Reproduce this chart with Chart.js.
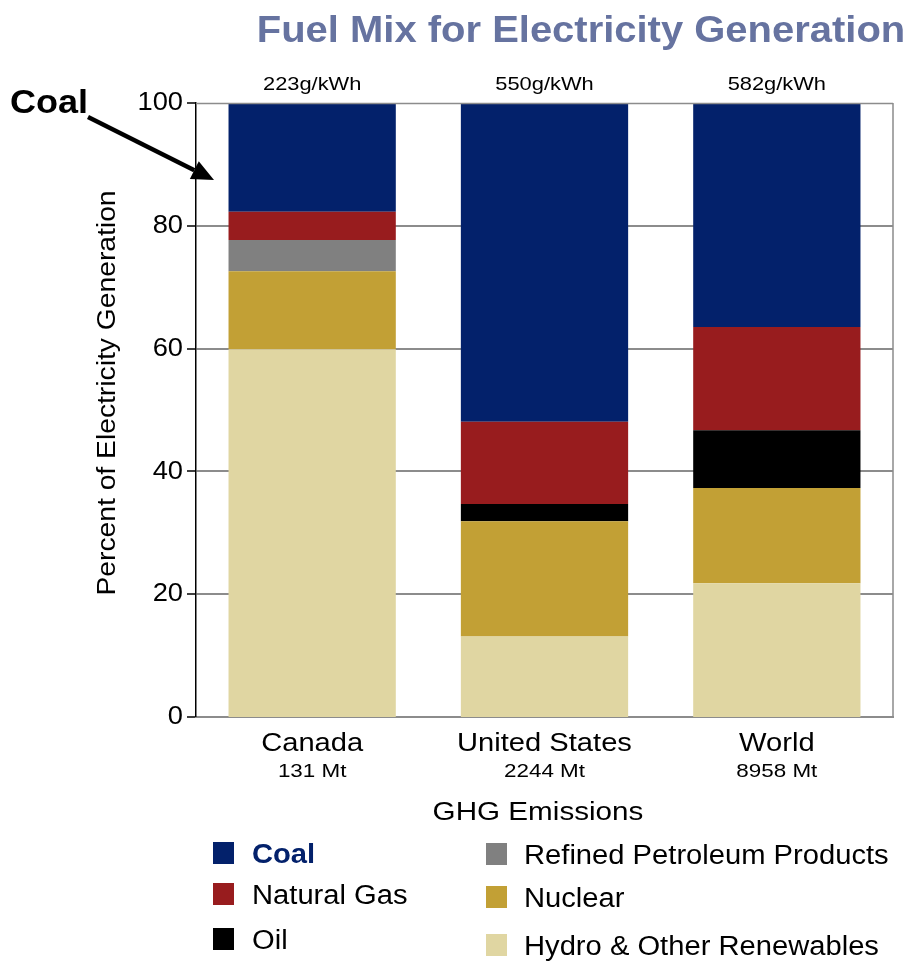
<!DOCTYPE html>
<html>
<head>
<meta charset="utf-8">
<title>Fuel Mix for Electricity Generation</title>
<script src="https://cdn.jsdelivr.net/npm/chart.js@4.4.1/dist/chart.umd.min.js"></script>
<style>
  html, body { margin: 0; padding: 0; background: #ffffff; }
  canvas { display: block; }
</style>
</head>
<body>
<canvas id="fuelChart" width="910" height="963"></canvas>
<script>
// Regions and their labels
const countries = ['Canada', 'United States', 'World'];
const emissions = ['131 Mt', '2244 Mt', '8958 Mt'];
const intensity = ['223g/kWh', '550g/kWh', '582g/kWh'];

// Share of generation by fuel (percent), listed bottom to top of each stack
const hydro   = [59.9, 13.1, 21.8];
const nuclear = [12.7, 18.8, 15.5];
const refined = [5.1, 0, 0];
const oil     = [0, 2.8, 9.4];
const gas     = [4.6, 13.4, 16.8];
const coal    = [17.7, 51.9, 36.5];

// Y axis
const yTickStep = 20;
const yMax = 100;

const FONT = '"Liberation Sans", Arial, Helvetica, sans-serif';
const GRID = '#8c8c8c';

const datasets = [
  { label: 'Hydro & Other Renewables', data: hydro,   backgroundColor: '#E0D6A2' },
  { label: 'Nuclear',                  data: nuclear, backgroundColor: '#C2A035' },
  { label: 'Refined Petroleum Products', data: refined, backgroundColor: '#808080' },
  { label: 'Oil',                      data: oil,     backgroundColor: '#000000' },
  { label: 'Natural Gas',              data: gas,     backgroundColor: '#981C1E' },
  { label: 'Coal',                     data: coal,    backgroundColor: '#03216B' }
];

// Legend arrangement: two columns, three rows
const legendColumns = [
  ['Coal', 'Natural Gas', 'Oil'],
  ['Refined Petroleum Products', 'Nuclear', 'Hydro & Other Renewables']
];

function drawText(ctx, text, x, y, opts) {
  ctx.save();
  ctx.translate(x, y);
  if (opts.rotate) ctx.rotate(opts.rotate);
  ctx.scale(opts.sx || 1, 1);
  ctx.font = opts.font;
  ctx.fillStyle = opts.color || '#000';
  ctx.textAlign = opts.align || 'left';
  ctx.textBaseline = opts.baseline || 'alphabetic';
  ctx.fillText(text, 0, 0);
  ctx.restore();
}

const decorations = {
  id: 'decorations',
  afterDatasetsDraw(chart) {
    const { ctx, chartArea: a } = chart;
    // frame on the top and right side of the plot
    ctx.save();
    ctx.strokeStyle = GRID;
    ctx.lineWidth = 1.5;
    ctx.beginPath();
    ctx.moveTo(a.right, a.top);
    ctx.lineTo(a.right, a.bottom);
    ctx.moveTo(a.left, a.top + 0.5);
    ctx.lineTo(a.right, a.top + 0.5);
    ctx.stroke();
    ctx.restore();
  },
  afterDraw(chart) {
    const { ctx, chartArea: a, scales } = chart;
    const x = scales.x, y = scales.y;

    // Title
    drawText(ctx, 'Fuel Mix for Electricity Generation', 581, 42,
      { font: 'bold 37px ' + FONT, color: '#6673A0', align: 'center', sx: 1.08 });

    // Y tick labels
    y.ticks.forEach(t => {
      drawText(ctx, String(t.value), a.left - 13, y.getPixelForValue(t.value),
        { font: '26px ' + FONT, align: 'right', baseline: 'middle', sx: 1.05 });
    });

    // Y axis title
    drawText(ctx, 'Percent of Electricity Generation', 108, (a.top + a.bottom) / 2 - 17,
      { font: '25px ' + FONT, align: 'center', baseline: 'middle', rotate: -Math.PI / 2, sx: 1.13 });

    // Category labels, emissions and intensity
    countries.forEach((c, i) => {
      const cx = x.getPixelForValue(i);
      drawText(ctx, c, cx, 751, { font: '26px ' + FONT, align: 'center', sx: 1.12 });
      drawText(ctx, emissions[i], cx, 777, { font: '19px ' + FONT, align: 'center', sx: 1.18 });
      drawText(ctx, intensity[i], cx, 90, { font: '19px ' + FONT, align: 'center', sx: 1.15 });
    });

    // X axis title
    drawText(ctx, 'GHG Emissions', 538, 820, { font: '26px ' + FONT, align: 'center', sx: 1.14 });

    // "Coal" callout with arrow
    drawText(ctx, 'Coal', 10, 113, { font: 'bold 34px ' + FONT, sx: 1.06 });
    const x0 = 88, y0 = 117, x1 = 214, y1 = 180;
    const ang = Math.atan2(y1 - y0, x1 - x0);
    const headLen = 22, headHalf = 10;
    const bx = x1 - headLen * Math.cos(ang), by = y1 - headLen * Math.sin(ang);
    ctx.save();
    ctx.strokeStyle = '#000';
    ctx.fillStyle = '#000';
    ctx.lineWidth = 4.5;
    ctx.beginPath();
    ctx.moveTo(x0, y0);
    ctx.lineTo(bx, by);
    ctx.stroke();
    ctx.beginPath();
    ctx.moveTo(x1, y1);
    ctx.lineTo(bx + headHalf * Math.sin(ang), by - headHalf * Math.cos(ang));
    ctx.lineTo(bx - headHalf * Math.sin(ang), by + headHalf * Math.cos(ang));
    ctx.closePath();
    ctx.fill();
    ctx.restore();

    // Legend
    const colX = [[213, 252], [486, 524]];
    const rowY = [[842, 883, 928], [843, 886, 934]];
    legendColumns.forEach((col, ci) => {
      col.forEach((name, ri) => {
        const ds = chart.data.datasets.find(d => d.label === name);
        const top = rowY[ci][ri];
        ctx.save();
        ctx.fillStyle = ds.backgroundColor;
        ctx.fillRect(colX[ci][0], top, 21, 22);
        ctx.restore();
        const isCoal = name === 'Coal';
        drawText(ctx, name, colX[ci][1], top + 21, {
          font: (isCoal ? 'bold ' : '') + '27px ' + FONT,
          color: isCoal ? '#03216B' : '#000',
          sx: 1.08
        });
      });
    });
  }
};

new Chart(document.getElementById('fuelChart'), {
  type: 'bar',
  data: { labels: countries, datasets },
  options: {
    responsive: false,
    animation: false,
    devicePixelRatio: 1,
    layout: { padding: { top: 103, right: 17, bottom: 246, left: 186 } },
    plugins: {
      legend: { display: false },
      title: { display: false },
      tooltip: { enabled: false }
    },
    datasets: { bar: { barPercentage: 0.72, categoryPercentage: 1.0, borderWidth: 0 } },
    scales: {
      x: {
        stacked: true,
        grid: { display: false },
        border: { display: true, color: GRID, width: 2 },
        ticks: { display: false },
        afterFit(s) { s.height = 0; }
      },
      y: {
        stacked: true,
        min: 0,
        max: yMax,
        ticks: { display: false, stepSize: yTickStep },
        grid: {
          color: GRID,
          lineWidth: c => (c.tick && (c.tick.value === yMax || c.tick.value === 0)) ? 0 : 2,
          tickColor: '#000',
          tickWidth: 1.5,
          tickLength: 9
        },
        border: { display: true, color: '#000', width: 1.5 },
        afterFit(s) { s.width = 10; }
      }
    }
  },
  plugins: [decorations]
});
</script>
</body>
</html>
